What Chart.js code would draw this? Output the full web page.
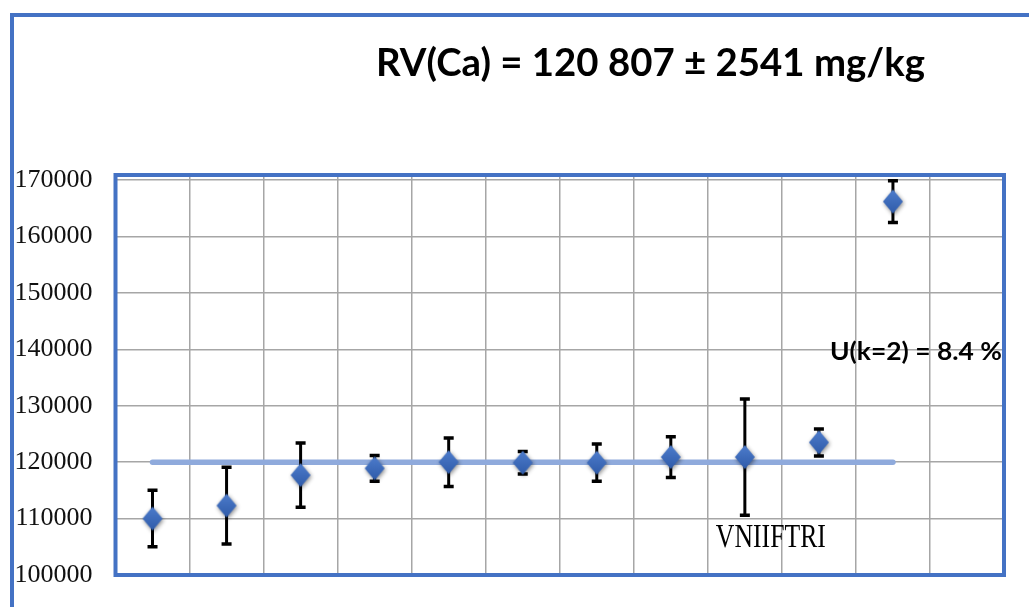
<!DOCTYPE html>
<html>
<head>
<meta charset="utf-8">
<title>RV(Ca)</title>
<script src="https://cdn.jsdelivr.net/npm/chart.js@4.4.1/dist/chart.umd.min.js"></script>
<style>
  html, body { margin: 0; padding: 0; background: #fff; overflow: hidden; }
  #frame {
    position: absolute; left: 10px; top: 13px; width: 1100px; height: 700px;
    border-left: 4px solid #4472C4; border-top: 4px solid #4472C4;
  }
  #chart { position: absolute; left: 0; top: 0; }
</style>
</head>
<body>
<div id="frame"></div>
<canvas id="chart" width="1029" height="607"></canvas>
<script>
// Participants (12 slots on the x axis, the last one stays empty)
const labs = ['1', '2', '3', '4', '5', '6', '7', '8', '9', '10', '11', '12'];
const results = [110000, 112300, 117700, 118900, 120000, 119900, 119900, 120900, 120900, 123500, 166200, null];
const uncertainty = [5000, 6800, 5700, 2300, 4300, 2000, 3300, 3600, 10300, 2400, 3700, null];
const refLine = [120000, 120000, 120000, 120000, 120000, 120000, 120000, 120000, 120000, 120000, 120000, null];
const yTicks = [100000, 110000, 120000, 130000, 140000, 150000, 160000, 170000];

const titleText = 'RV(Ca) = 120 807 \u00B1 2541 mg/kg';
const uText = 'U(k=2) = 8.4 %';
const vniiftriText = 'VNIIFTRI';
const vniiftriIndex = 8;

// diamond marker with a soft shadow
function makeDiamond() {
    const c = document.createElement('canvas');
    c.width = 32;
    c.height = 36;
    const g = c.getContext('2d');
    const cx = 16, cy = 18, hw = 10, hh = 12;
    g.shadowColor = 'rgba(0,0,0,0.45)';
    g.shadowBlur = 4;
    g.shadowOffsetX = 1;
    g.shadowOffsetY = 1.5;
    const grad = g.createLinearGradient(0, cy - hh, 0, cy + hh);
    grad.addColorStop(0, '#4d7ccc');
    grad.addColorStop(1, '#2f5ba9');
    g.fillStyle = grad;
    g.beginPath();
    g.moveTo(cx, cy - hh);
    g.lineTo(cx + hw, cy);
    g.lineTo(cx, cy + hh);
    g.lineTo(cx - hw, cy);
    g.closePath();
    g.fill();
    return c;
}

// draws text stretched to fit between left and right
function fitText(ctx, text, font, left, right, baseline) {
    ctx.save();
    ctx.font = font;
    const w = ctx.measureText(text).width;
    ctx.translate(left, baseline);
    ctx.scale((right - left) / w, 1);
    ctx.textAlign = 'left';
    ctx.textBaseline = 'alphabetic';
    ctx.fillStyle = '#000';
    ctx.fillText(text, 0, 0);
    ctx.restore();
}

const extras = {
    id: 'extras',
    beforeDatasetsDraw(chart) {
        // blue box round the plot area
        const a = chart.chartArea;
        const ctx = chart.ctx;
        ctx.save();
        ctx.strokeStyle = '#4472C4';
        ctx.lineWidth = 4;
        ctx.strokeRect(a.left, a.top, a.right - a.left, a.bottom - a.top);
        ctx.restore();
    },
    beforeDatasetDraw(chart, args) {
        // error bars go under the diamonds
        if (args.index !== 0) return;
        const ctx = chart.ctx;
        const y = chart.scales.y;
        const meta = chart.getDatasetMeta(0);
        ctx.save();
        ctx.strokeStyle = '#000';
        ctx.lineCap = 'butt';
        results.forEach((v, i) => {
            if (v === null) return;
            const x = meta.data[i].x;
            const top = y.getPixelForValue(v + uncertainty[i]);
            const bot = y.getPixelForValue(v - uncertainty[i]);
            ctx.lineWidth = 3;
            ctx.beginPath();
            ctx.moveTo(x, top);
            ctx.lineTo(x, bot);
            ctx.stroke();
            ctx.lineWidth = 3.5;
            ctx.beginPath();
            ctx.moveTo(x - 5, top);
            ctx.lineTo(x + 5, top);
            ctx.moveTo(x - 5, bot);
            ctx.lineTo(x + 5, bot);
            ctx.stroke();
        });
        ctx.restore();
    },
    afterDraw(chart) {
        const ctx = chart.ctx;
        fitText(ctx, titleText, 'bold 39px Lato', 376, 925, 76);
        fitText(ctx, uText, 'bold 25px Lato', 830, 1002, 360);
        const p = chart.getDatasetMeta(0).data[vniiftriIndex];
        const base = chart.scales.y.getPixelForValue(105000);
        fitText(ctx, vniiftriText, '33px "Liberation Serif"', p.x - 29, p.x + 81, base);
    }
};

const ctx = document.getElementById('chart').getContext('2d');
new Chart(ctx, {
    type: 'line',
    data: {
        labels: labs,
        datasets: [{
            label: 'Results',
            data: results,
            showLine: false,
            pointStyle: makeDiamond(),
            pointRadius: 10,
            pointHoverRadius: 10
        }, {
            label: 'RV',
            data: refLine,
            borderColor: '#8FAADC',
            borderWidth: 5.5,
            borderCapStyle: 'round',
            pointRadius: 0,
            fill: false
        }]
    },
    options: {
        responsive: false,
        animation: false,
        events: [],
        layout: {
            padding: { top: 175, bottom: 32, right: 25, left: 0 }
        },
        plugins: {
            legend: { display: false },
            title: { display: false },
            tooltip: { enabled: false }
        },
        scales: {
            x: {
                offset: true,
                grid: { offset: true, color: '#a6a6a6', lineWidth: 1.5, drawTicks: false },
                border: { display: false },
                ticks: { display: false },
                afterFit: s => { s.height = 0; }
            },
            y: {
                min: 100000,
                max: 170900,
                afterBuildTicks: s => { s.ticks = yTicks.map(v => ({ value: v })); },
                grid: { color: '#a6a6a6', lineWidth: 1.5, drawTicks: false },
                border: { display: false },
                ticks: {
                    padding: 23,
                    color: '#111',
                    font: { family: '"Liberation Serif"', size: 26 },
                    callback: v => String(v)
                },
                afterFit: s => {
                    s.width = 115.5;
                    s.paddingTop = 0;
                    s.paddingBottom = 0;
                }
            }
        }
    },
    plugins: [extras]
});
</script>
</body>
</html>
